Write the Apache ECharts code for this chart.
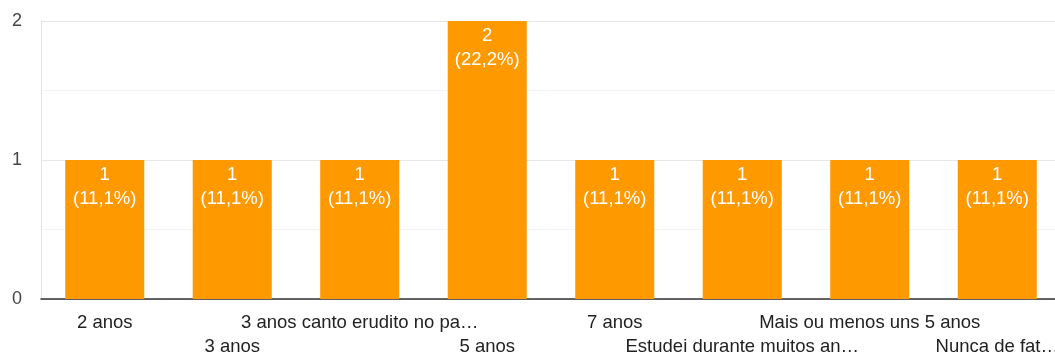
<!DOCTYPE html>
<html>
<head>
<meta charset="utf-8">
<script src="https://cdn.jsdelivr.net/npm/echarts@6/dist/echarts.min.js"></script>
<style>
  html, body { margin: 0; padding: 0; overflow: hidden; background: #fff; }
  #chart { width: 1055px; height: 353px; }
</style>
</head>
<body>
<div id="chart"></div>
<script>
  var categories = ['2 anos', '3 anos', '3 anos canto erudito no pa\u2026', '5 anos', '7 anos',
    'Estudei durante muitos an\u2026', 'Mais ou menos uns 5 anos', 'Nunca de fat\u2026'];
  var counts = [1, 1, 1, 2, 1, 1, 1, 1];
  var percents = ['11,1%', '11,1%', '11,1%', '22,2%', '11,1%', '11,1%', '11,1%', '11,1%'];
  var yTicks = [0, 1, 2];

  var chart = echarts.init(document.getElementById('chart'));
  var option = {
    animation: false,
    textStyle: { fontFamily: 'Arial, "Liberation Sans", sans-serif' },
    grid: { left: 41, top: 21, width: 1020, bottom: 54, containLabel: false, outerBoundsMode: 'none' },
    xAxis: {
      type: 'category',
      data: categories,
      axisLine: { lineStyle: { color: '#333', width: 1.5 } },
      axisTick: { show: false },
      axisLabel: {
        interval: 0,
        color: '#222',
        fontSize: 18.5,
        margin: 12,
        lineHeight: 24,
        formatter: function (v, i) { return i % 2 ? '\n' + v : v; }
      }
    },
    yAxis: {
      type: 'value',
      min: yTicks[0],
      max: yTicks[yTicks.length - 1],
      interval: 1,
      axisLine: { show: true, lineStyle: { color: '#e6e6e6' } },
      axisTick: { show: false },
      axisLabel: { color: '#444', fontSize: 18, margin: 19 },
      splitLine: { lineStyle: { color: '#e6e6e6' } },
      minorTick: { show: false, splitNumber: 2 },
      minorSplitLine: { show: true, lineStyle: { color: '#f3f3f3' } }
    },
    series: [{
      type: 'bar',
      data: counts,
      barCategoryGap: '38%',
      itemStyle: { color: '#ff9900' },
      label: {
        show: true,
        position: 'insideTop',
        distance: 3,
        color: '#fff',
        fontSize: 18.5,
        lineHeight: 24,
        formatter: function (p) { return p.value + '\n(' + percents[p.dataIndex] + ')'; }
      }
    }]
  };
  chart.setOption(option);
</script>
</body>
</html>
